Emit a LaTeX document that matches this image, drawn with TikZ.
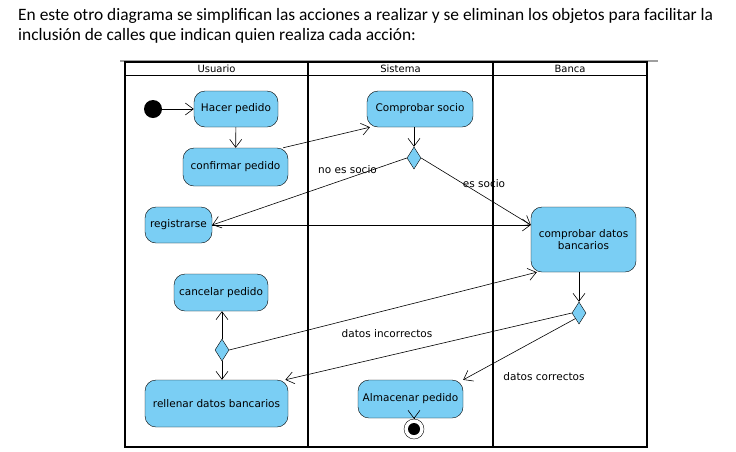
\documentclass[tikz,border=0pt]{standalone}
\usepackage{fontspec}
\setmainfont{DejaVu Sans}
\newfontfamily\introfont{Carlito}
\usepackage{tikz}
\usetikzlibrary{shapes.geometric, arrows.meta, positioning, calc}
\definecolor{actblue}{RGB}{122,206,244}
\tikzset{
    act/.style={rectangle, draw, thin, rounded corners=11pt, fill=actblue, align=center, inner sep=2pt, font=\fontsize{10.5}{12.5}\selectfont},
    arrow/.style={semithick, -{Straight Barb[length=8pt, width=12pt]}},
    decision/.style={diamond, draw, thin, fill=actblue, minimum width=14pt, minimum height=22pt, inner sep=0pt},
    lbl/.style={inner sep=1pt, font=\fontsize{10.5}{12.5}\selectfont},
    lanehead/.style={inner sep=0pt, font=\fontsize{10}{12}\selectfont},
    lane/.style={line width=1.6pt}
}

\begin{document}
\begin{tikzpicture}[x=1pt, y=-1pt]
            \useasboundingbox (0,0) rectangle (736,451);

            % texto de encabezado
            \node[anchor=base west, inner sep=0pt, font=\introfont\fontsize{17.4}{20}\selectfont] (intro_1) at (18,20.5) {En este otro diagrama se simplifican las acciones a realizar y se eliminan los objetos para facilitar la};
            \node[anchor=base west, inner sep=0pt, font=\introfont\fontsize{17.4}{20}\selectfont] (intro_2) at (18,40.5) {inclusión de calles que indican quien realiza cada acción:};
            \draw[gray!75, line width=2pt] (120,60.5) -- (658,60.5);

            % calles
            \draw[lane] (125,62) rectangle (647,447);
            \draw[lane] (125,75.5) -- (647,75.5);
            \draw[lane] (308,62) -- (308,447);
            \draw[lane] (493,62) -- (493,447);
            \node[lanehead] (lane_usuario) at (216.5,69) {Usuario};
            \node[lanehead] (lane_sistema) at (400.5,69) {Sistema};
            \node[lanehead] (lane_banca) at (570,69) {Banca};

            % acciones
            \node[circle, fill=black, minimum size=18pt, inner sep=0pt] (inicio) at (153,109) {};
            \node[act, minimum width=84pt, minimum height=36pt] (hacer_pedido) at (236,109) {Hacer pedido};
            \node[act, minimum width=105pt, minimum height=38pt] (confirmar_pedido) at (235.5,167) {confirmar pedido};
            \node[act, minimum width=106pt, minimum height=36pt] (comprobar_socio) at (420,109) {Comprobar socio};
            \node[decision] (dec_socio) at (414,158) {};
            \node[act, minimum width=67pt, minimum height=36pt] (registrarse) at (178.5,225) {registrarse};
            \node[act, minimum width=105pt, minimum height=65pt] (comprobar_datos) at (583.5,239.5) {comprobar datos\\bancarios};
            \node[act, minimum width=94pt, minimum height=37pt] (cancelar_pedido) at (221,292.5) {cancelar pedido};
            \node[decision] (dec_cancelar) at (222,350) {};
            \node[decision] (dec_datos) at (579,313) {};
            \node[act, minimum width=143pt, minimum height=47pt] (rellenar_datos) at (216.5,403.5) {rellenar datos bancarios};
            \node[act, minimum width=105pt, minimum height=38pt] (almacenar_pedido) at (410.5,399) {Almacenar pedido};
            \node[circle, draw, thin, fill=white, minimum size=20pt, inner sep=0pt] (fin) at (414,429) {};
            \fill (fin.center) circle (6pt);

            % etiquetas
            \node[lbl] (lbl_no_socio) at (347.5,169.5) {no es socio};
            \node[lbl] (lbl_socio) at (484,183.5) {es socio};
            \node[lbl] (lbl_incorrectos) at (387,333.5) {datos incorrectos};
            \node[lbl] (lbl_correctos) at (544,376.5) {datos correctos};

            \draw[arrow] (inicio) -- (hacer_pedido);
            \draw[arrow] (hacer_pedido) -- (confirmar_pedido);
            \draw[arrow] (confirmar_pedido.22) -- (comprobar_socio.200);
            \draw[arrow] (dec_socio.north |- comprobar_socio.south) -- (dec_socio.north);
            \draw[arrow] (dec_socio.west) -- (registrarse.east);
            \draw[arrow] (dec_socio.east) -- (registrarse.east -| comprobar_datos.west);
            \draw[arrow] (registrarse.east) -- (registrarse.east -| comprobar_datos.west);
            \draw[arrow] (dec_cancelar.north) -- (dec_cancelar.north |- cancelar_pedido.south);
            \draw[arrow] (dec_cancelar.south) -- (dec_cancelar.south |- rellenar_datos.north);
            \draw[arrow] (dec_cancelar.east) -- (comprobar_datos.215);
            \draw[arrow] (dec_datos.north |- comprobar_datos.south) -- (dec_datos.north);
            \draw[arrow] (dec_datos.west) -- (rellenar_datos.19);
            \draw[arrow] (dec_datos.south west) -- (almacenar_pedido.20);
            \draw[arrow] (fin.north |- almacenar_pedido.south) -- (fin.north);
        \end{tikzpicture}
\end{document}
